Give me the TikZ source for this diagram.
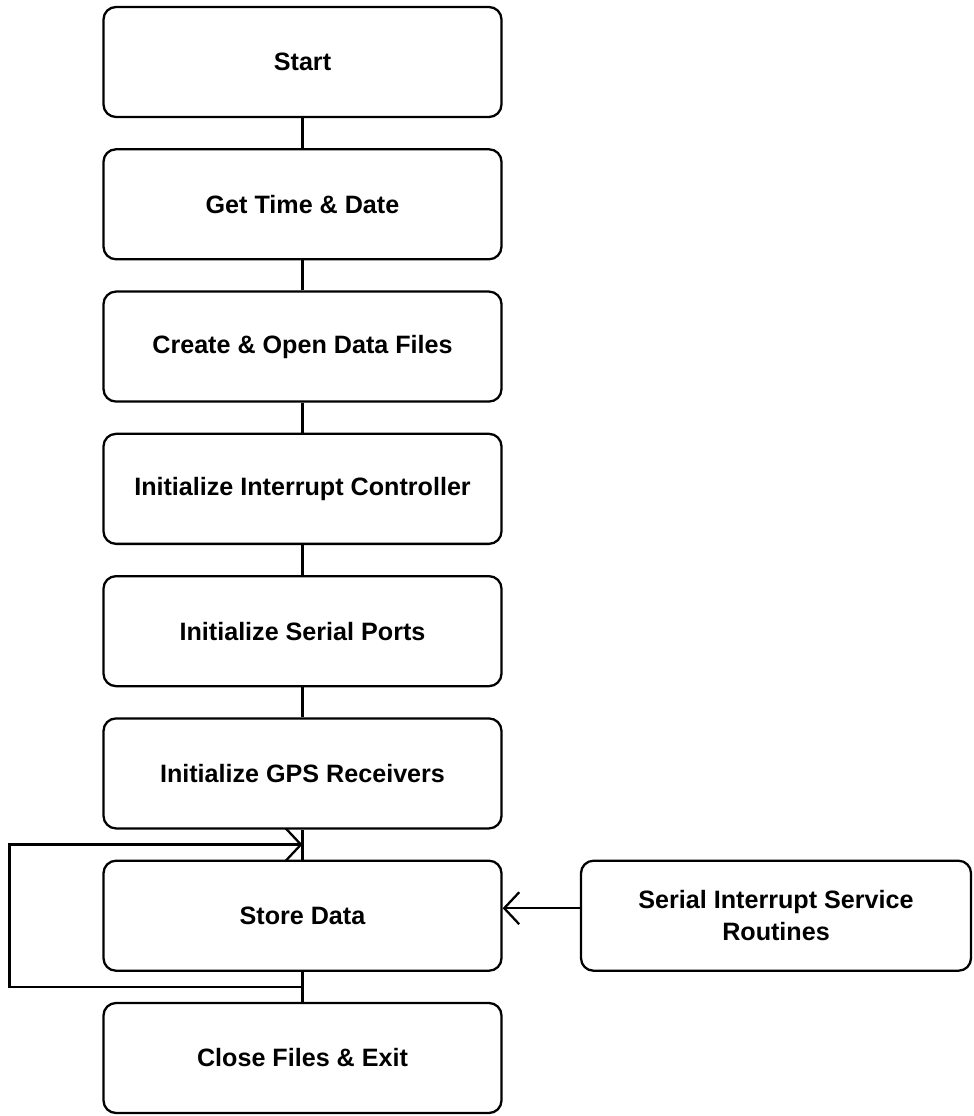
\documentclass[tikz,border=0pt]{standalone}
\usepackage{fontspec}
\setmainfont{Liberation Sans}
\usetikzlibrary{positioning,arrows.meta,calc}

\begin{document}
\begin{tikzpicture}[node distance=0.6cm,line width=1.3pt,
        every node/.style={align=center,font=\fontsize{14.3}{18}\selectfont\bfseries},
        box/.style={draw,rounded corners=0.25cm,minimum width=7.96cm,minimum height=2.2cm},
        barb/.style={-{Straight Barb[length=3mm,width=6.4mm]}}]
    \useasboundingbox (0,0) rectangle (19.46,-22.32);
    % main sequence
    \node[box] (start) at (6.05,-1.24) {Start};
    \node[box,below=of start] (time) {Get Time \& Date};
    \node[box,below=of time] (files) {Create \& Open Data Files};
    \node[box,below=of files] (intctl) {Initialize Interrupt Controller};
    \node[box,below=of intctl] (ports) {Initialize Serial Ports};
    \node[box,below=of ports] (gps) {Initialize GPS Receivers};
    \node[box,below=of gps] (store) {Store Data};
    \node[box,below=of store] (close) {Close Files \& Exit};
    \node[box,minimum width=7.8cm] (isr) at (store -| 15.52,0) {Serial Interrupt Service\\Routines};
    \draw (start) -- (time);
    \draw (time) -- (files);
    \draw (files) -- (intctl);
    \draw (intctl) -- (ports);
    \draw (ports) -- (gps);
    \draw (gps) -- (store);
    \draw (store) -- (close);
    % loop back round store
    \coordinate (lp) at ($(store.south)!0.5!(close.north)$);
    \coordinate (lq) at ($(gps.south)!0.5!(store.north)$);
    \draw[barb] (lp) -- ++(-5.86,0) |- (lq);
    \draw[barb] ([yshift=1.5mm]isr.west) -- ([yshift=1.5mm]store.east);
\end{tikzpicture}
\end{document}
